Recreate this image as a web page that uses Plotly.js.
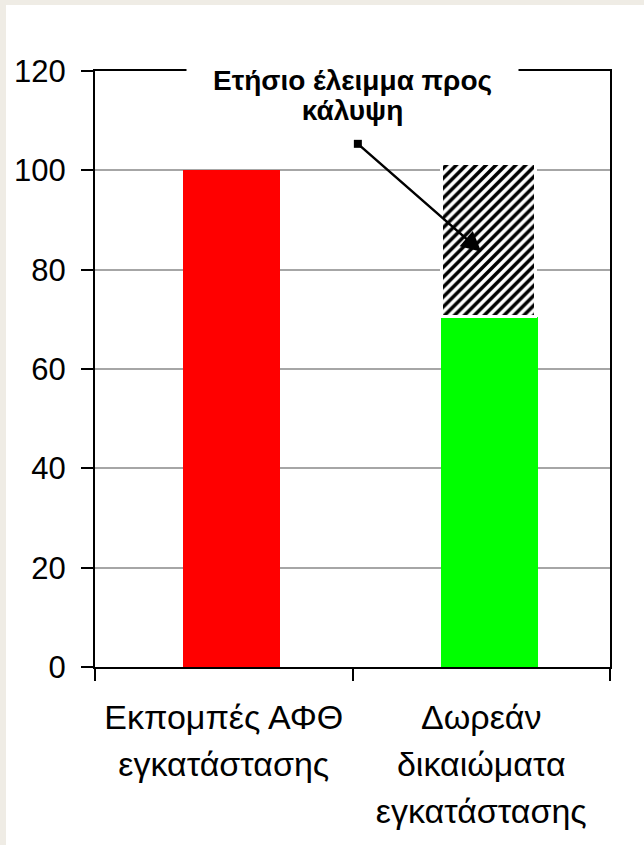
<!DOCTYPE html>
<html>
<head>
<meta charset="utf-8">
<script src="https://cdn.plot.ly/plotly-3.0.1.min.js"></script>
<style>
  html, body { margin: 0; padding: 0; background: #efece5; width: 644px; height: 845px; overflow: hidden; }
  #chart { position: absolute; left: 6px; top: 5px; width: 638px; height: 840px; background: #ffffff; }
</style>
</head>
<body>
<div id="chart"></div>
<script>
// Data
const categories = ["Εκπομπές ΑΦΘ<br>εγκατάστασης", "Δωρεάν<br>δικαιώματα<br>εγκατάστασης"];
const emissions = [100, null];
const freeAllowances = [null, 70.5];
const deficit = [null, 30.8];
const yTicks = [0, 20, 40, 60, 80, 100, 120];
const titleText = "Ετήσιο έλειμμα προς<br>κάλυψη";

const FONT = "Liberation Sans, Arial, sans-serif";

const traces = [
  {
    type: "bar", x: categories, y: emissions, name: "Εκπομπές",
    width: 0.377, offset: -0.158,
    marker: { color: "#ff0000", line: { width: 0 } },
    hoverinfo: "skip"
  },
  {
    type: "bar", x: categories, y: freeAllowances, name: "Δωρεάν",
    width: 0.377, offset: -0.156,
    marker: { color: "#00ff00", line: { width: 0 } },
    hoverinfo: "skip"
  },
  {
    type: "bar", x: categories, y: deficit, name: "Έλειμμα",
    width: 0.365, offset: -0.155,
    marker: {
      color: "#000000",
      pattern: { shape: "/", fgcolor: "#000000", bgcolor: "#ffffff", size: 7, solidity: 0.5 },
      line: { color: "#ffffff", width: 3 }
    },
    hoverinfo: "skip"
  }
];

const layout = {
  width: 638, height: 840,
  paper_bgcolor: "#ffffff", plot_bgcolor: "#ffffff",
  margin: { l: 89, r: 34, t: 66, b: 178 },
  barmode: "stack",
  showlegend: false,
  font: { family: FONT, color: "#000000" },
  xaxis: {
    type: "category",
    range: [-0.5, 1.5],
    showgrid: false,
    showline: true, linecolor: "#000000", linewidth: 2, mirror: true,
    ticks: "outside", tickson: "boundaries", ticklen: 12, tickwidth: 2, tickcolor: "#000000",
    ticklabelstandoff: 19,
    tickfont: { family: FONT, size: 34, color: "#000000" },
    fixedrange: true
  },
  yaxis: {
    range: [0, 120],
    tickvals: yTicks,
    ticktext: yTicks.map(String),
    showgrid: true, gridcolor: "#a6a6a6", gridwidth: 2,
    zeroline: false,
    showline: true, linecolor: "#000000", linewidth: 2, mirror: true,
    ticks: "outside", ticklen: 12, tickwidth: 2, tickcolor: "#000000",
    ticklabelstandoff: 9,
    tickfont: { family: FONT, size: 31, color: "#000000" },
    fixedrange: true
  },
  annotations: [
    {
      xref: "paper", x: 0.5, yref: "y", y: 114.46,
      xanchor: "center", yanchor: "middle",
      text: "<b>" + titleText + "</b>",
      showarrow: false,
      font: { family: FONT, size: 28, color: "#000000" },
      bgcolor: "#ffffff", borderpad: 26, align: "center"
    },
    {
      xref: "x", yref: "y", x: 1.0, y: 83.6,
      axref: "x", ayref: "y", ax: 0.515, ay: 105.6,
      text: "", showarrow: true,
      arrowside: "end+start",
      arrowhead: 2, arrowsize: 1.6, arrowwidth: 2.5, arrowcolor: "#000000",
      startarrowhead: 7, startarrowsize: 0.8
    }
  ]
};

Plotly.newPlot("chart", traces, layout, { staticPlot: true, displayModeBar: false }).then(function (gd) {
  // line spacing adjustments to match the reference
  gd.querySelectorAll(".xtick text").forEach(function (t) {
    t.querySelectorAll("tspan.line").forEach(function (ts, i) {
      ts.setAttribute("dy", (i * 1.38) + "em");
    });
  });
  gd.querySelectorAll(".annotation-text").forEach(function (t) {
    t.querySelectorAll("tspan.line").forEach(function (ts, i) {
      ts.setAttribute("dy", (i * 1.08) + "em");
    });
  });
});
</script>
</body>
</html>
